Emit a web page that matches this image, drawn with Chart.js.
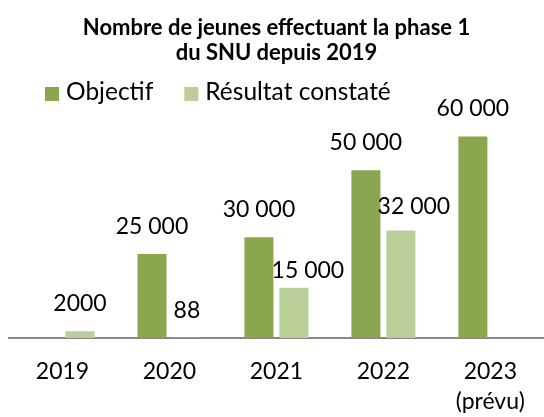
<!DOCTYPE html>
<html>
<head>
<meta charset="utf-8">
<script src="https://cdn.jsdelivr.net/npm/chart.js@4.4.1/dist/chart.umd.min.js"></script>
<style>
  html, body { margin: 0; padding: 0; background: #fff; }
  #wrap { width: 544px; height: 417px; }
</style>
</head>
<body>
<div id="wrap"><canvas id="snuChart"></canvas></div>
<script>
// Categories and values
const years = ['2019', '2020', '2021', '2022', ['2023', '(prévu)']];
const objectif = [null, 25000, 30000, 50000, 60000];
const resultat = [2000, 88, 15000, 32000, null];

// French style: separator only from 5 digits on (2000, but 25 000)
function formatFr(v) {
    const s = String(v);
    return v >= 10000 ? s.replace(/\B(?=(\d{3})+(?!\d))/g, ' ') : s;
}

// Value labels above the bars (some were moved by hand in the original)
const barLabels = {
    id: 'barLabels',
    afterDatasetsDraw(chart, args, opts) {
        const ctx = chart.ctx;
        ctx.save();
        ctx.font = opts.font;
        ctx.fillStyle = opts.color;
        ctx.textAlign = 'center';
        ctx.textBaseline = 'middle';
        chart.data.datasets.forEach((ds, i) => {
            const meta = chart.getDatasetMeta(i);
            meta.data.forEach((bar, j) => {
                const v = ds.data[j];
                if (v === null) return;
                const n = (opts.nudges[i] && opts.nudges[i][j]) || [0, 0];
                ctx.fillText(formatFr(v), bar.x + n[0], bar.y - opts.offset + n[1]);
            });
        });
        ctx.restore();
    }
};

// Legend drawn as one row under the title, left aligned like the original
const legendRow = {
    id: 'legendRow',
    afterDraw(chart, args, opts) {
        const ctx = chart.ctx;
        ctx.save();
        ctx.font = opts.font;
        ctx.textBaseline = 'middle';
        let x = opts.x;
        chart.data.datasets.forEach(ds => {
            ctx.fillStyle = ds.backgroundColor;
            ctx.fillRect(x, opts.y - opts.box / 2, opts.box, opts.box);
            x += opts.box + opts.textGap;
            ctx.fillStyle = opts.color;
            ctx.fillText(ds.label, x, opts.y - 2);
            x += ctx.measureText(ds.label).width + opts.itemGap;
        });
        ctx.restore();
    }
};

const ctx = document.getElementById('snuChart').getContext('2d');
new Chart(ctx, {
    type: 'bar',
    data: {
        labels: years,
        datasets: [{
            label: 'Objectif',
            data: objectif,
            backgroundColor: '#8aa64f'
        }, {
            label: 'Résultat constaté',
            data: resultat,
            backgroundColor: '#b9cf97'
        }]
    },
    options: {
        responsive: true,
        maintainAspectRatio: false,
        animation: false,
        layout: { padding: { left: 9, right: 0, top: 0, bottom: 0 } },
        datasets: {
            bar: { categoryPercentage: 0.654, barPercentage: 0.83 }
        },
        plugins: {
            legend: { display: false },
            tooltip: { enabled: false },
            title: {
                display: true,
                text: ['Nombre de jeunes effectuant la phase 1', 'du SNU depuis 2019'],
                color: '#000',
                font: { family: 'Lato', size: 22, weight: 'bold', lineHeight: '25px' },
                padding: { top: 15, bottom: 38 }
            },
            legendRow: {
                x: 45, y: 94, box: 14, textGap: 7, itemGap: 31,
                font: '24.5px Lato', color: '#000'
            },
            barLabels: {
                font: '23px Lato',
                color: '#000',
                offset: 27.5,
                nudges: [[], [null, null, [14, 10], [13, 4], null]]
            }
        },
        scales: {
            x: {
                grid: { display: false, drawTicks: false },
                border: { display: true, color: '#878787', width: 2 },
                ticks: {
                    color: '#000',
                    padding: 19,
                    font: { family: 'Lato', size: 23, lineHeight: '30px' }
                },
                // padding counts twice in the fit; keep the axis band at 79px
                afterFit(scale) { scale.height = 79; }
            },
            y: {
                display: false,
                min: 0,
                max: 70000
            }
        }
    },
    plugins: [barLabels, legendRow]
});
</script>
</body>
</html>
